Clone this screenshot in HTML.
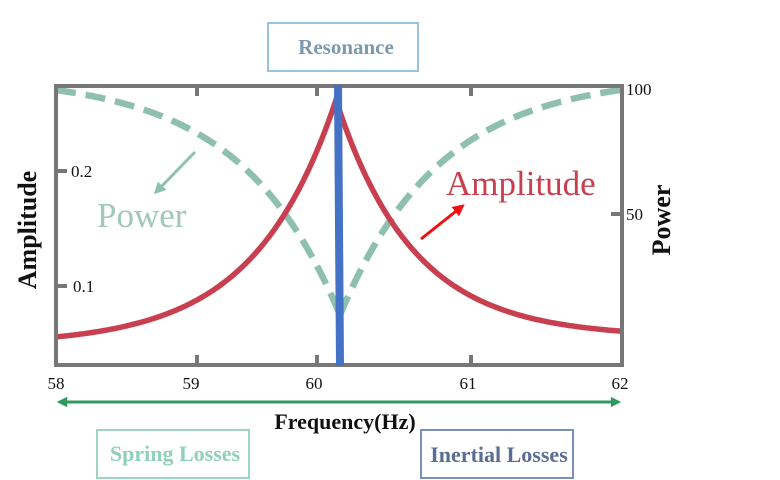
<!DOCTYPE html>
<html><head><meta charset="utf-8"><style>
html,body{margin:0;padding:0;background:#fff;}
svg{display:block;font-family:"Liberation Serif",serif;}
</style></head><body>
<svg id="s" width="780" height="480" viewBox="0 0 780 480" xmlns="http://www.w3.org/2000/svg">
<defs>
<marker id="ga" viewBox="0 0 10 10" refX="5" refY="5" markerWidth="3.5" markerHeight="3.5" orient="auto-start-reverse"><path d="M0,0L10,5L0,10z" fill="#2e9a5f"/></marker>
<marker id="pa" viewBox="0 0 10 10" refX="5" refY="5" markerWidth="4" markerHeight="4" orient="auto"><path d="M0,0L10,5L0,10z" fill="#8fbfb0"/></marker>
<marker id="ra" viewBox="0 0 10 10" refX="5" refY="5" markerWidth="4" markerHeight="4" orient="auto"><path d="M0,0L10,5L0,10z" fill="#ee1111"/></marker>
</defs>
<rect x="268" y="23" width="150" height="48" fill="none" stroke="#9cc0e0" stroke-width="2"/>
<text x="346" y="54" text-anchor="middle" font-size="21" font-weight="bold" fill="#7a9ab0">Resonance</text>
<path id="pw" fill="none" stroke="#8fbfb0" stroke-width="6.5" stroke-dasharray="20 10"/>
<path id="pw2" fill="none" stroke="#8fbfb0" stroke-width="6.5" stroke-dasharray="20 10"/>
<path id="am" fill="none" stroke="#c84050" stroke-width="5.5"/>
<rect x="56" y="86" width="566" height="279" fill="none" stroke="#777" stroke-width="4"/>
<g stroke="#777" stroke-width="4">
<line x1="197" y1="86" x2="197" y2="96"/><line x1="317" y1="86" x2="317" y2="96"/><line x1="471" y1="86" x2="471" y2="96"/>
<line x1="197" y1="365" x2="197" y2="355"/><line x1="317" y1="365" x2="317" y2="355"/><line x1="471" y1="365" x2="471" y2="355"/>
<line x1="56" y1="171" x2="67" y2="171"/><line x1="56" y1="286" x2="67" y2="286"/>
<line x1="622" y1="214" x2="611" y2="214"/>
</g>
<line x1="338" y1="85" x2="340" y2="366" stroke="#4472c4" stroke-width="8"/>
<g font-size="17" fill="#111">
<text x="71" y="177">0.2</text><text x="73" y="292">0.1</text>
<text x="626" y="95">100</text><text x="626" y="220">50</text>
<text x="56" y="389" text-anchor="middle">58</text><text x="191" y="389" text-anchor="middle">59</text>
<text x="314" y="389" text-anchor="middle">60</text><text x="468" y="389" text-anchor="middle">61</text>
<text x="620" y="389" text-anchor="middle">62</text>
</g>
<text x="97" y="227" font-size="35" fill="#9fc7bc">Power</text>
<text x="446" y="195" font-size="35" fill="#c84050">Amplitude</text>
<line x1="195" y1="152" x2="158" y2="190" stroke="#8fbfb0" stroke-width="3" marker-end="url(#pa)"/>
<line x1="421" y1="239" x2="460" y2="208" stroke="#ee1111" stroke-width="3" marker-end="url(#ra)"/>
<line x1="62" y1="402" x2="616" y2="402" stroke="#2e9a5f" stroke-width="3" marker-start="url(#ga)" marker-end="url(#ga)"/>
<text x="345" y="429" text-anchor="middle" font-size="22" font-weight="bold" fill="#111">Frequency(Hz)</text>
<text transform="translate(36,230) rotate(-90)" text-anchor="middle" font-size="26" font-weight="bold" fill="#111">Amplitude</text>
<text transform="translate(670,220) rotate(-90)" text-anchor="middle" font-size="26" font-weight="bold" fill="#111">Power</text>
<rect x="97" y="430" width="152" height="48" fill="none" stroke="#9fd5c0" stroke-width="2"/>
<text x="175" y="461" text-anchor="middle" font-size="22" font-weight="bold" fill="#8fd0b8">Spring Losses</text>
<rect x="421" y="430" width="152" height="48" fill="none" stroke="#7a90b8" stroke-width="2"/>
<text x="499" y="462" text-anchor="middle" font-size="22" font-weight="bold" fill="#5a6d95">Inertial Losses</text>
</svg>
<script>
(function(){
var x0=336,a="",p1="",p2="";
for(var x=56;x<=622;x+=2){
 var d=Math.abs(x-x0),h;
 if(x<x0){h=20+245*Math.exp(-d/82);}else{h=28+237*Math.exp(-d/77);}
 a+=(x==56?"M":"L")+x+","+(365-h).toFixed(1);
}
var L=100;
for(var x=56;x<=340;x+=2){var d=340-x;var f=(Math.exp(-d/L)-Math.exp(-284/L))/(1-Math.exp(-284/L));p1+=(x==56?"M":"L")+x+","+(90+225*f).toFixed(1);}
for(var x=620;x>=340;x-=2){var d=x-340;var f=(Math.exp(-d/L)-Math.exp(-280/L))/(1-Math.exp(-280/L));p2+=(x==620?"M":"L")+x+","+(90+225*f).toFixed(1);}
document.getElementById("am").setAttribute("d",a);
document.getElementById("pw").setAttribute("d",p1);
document.getElementById("pw2").setAttribute("d",p2);
})();
</script>
</body></html>
